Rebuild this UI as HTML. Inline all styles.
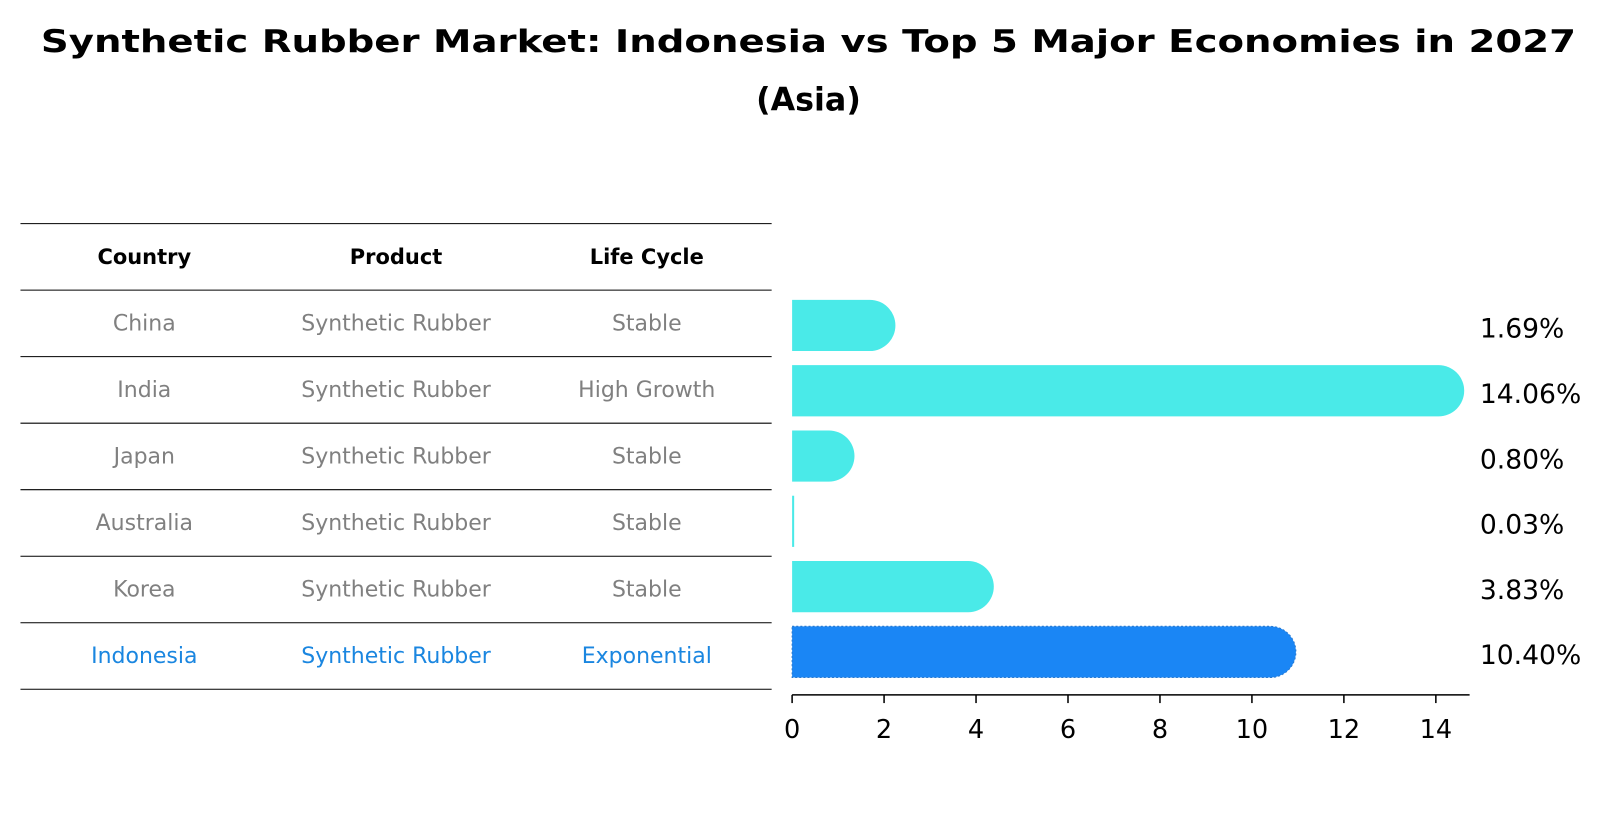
<!DOCTYPE html>
<html><head><meta charset="utf-8"><style>
body{margin:0;background:#fff;font-family:"DejaVu Sans","Liberation Sans",sans-serif;}
svg text{font-family:"DejaVu Sans","Liberation Sans",sans-serif;}
</style></head><body>
<svg id="c" width="1604" height="823" xmlns="http://www.w3.org/2000/svg">
<g transform="scale(1.0234)">
<text x="790" y="51" text-anchor="middle" font-size="30" font-weight="bold" textLength="1500" lengthAdjust="spacingAndGlyphs">Synthetic Rubber Market: Indonesia vs Top 5 Major Economies in 2027</text>
<text x="790" y="108" text-anchor="middle" font-size="31" font-weight="bold">(Asia)</text>
<g id="tbl"></g>
<g id="bars"></g>
</g>
</svg>
<script>
const countries=["China","India","Japan","Australia","Korea","Indonesia"];
const products=["Synthetic Rubber","Synthetic Rubber","Synthetic Rubber","Synthetic Rubber","Synthetic Rubber","Synthetic Rubber"];
const lifeCycles=["Stable","High Growth","Stable","Stable","Stable","Exponential"];
const values=[1.69,14.06,0.80,0.03,3.83,10.40];
const valueLabels=["1.69%","14.06%","0.80%","0.03%","3.83%","10.40%"];
const xTicks=[0,2,4,6,8,10,12,14];
const NS="http://www.w3.org/2000/svg";
function mk(t,a,p,txt){const e=document.createElementNS(NS,t);for(const k in a)e.setAttribute(k,a[k]);if(txt!=null)e.textContent=txt;p.appendChild(e);return e;}
const tbl=document.getElementById('tbl'),bars=document.getElementById('bars');
const rowY=i=>218+65*i;
const colX=[141,387,632];
for(let i=0;i<=7;i++){const l=mk('line',{x1:20,x2:754,y1:rowY(i)+0.5,y2:rowY(i)+0.5,stroke:'#000','stroke-width':1},tbl);

}
["Country","Product","Life Cycle"].forEach((h,j)=>{const t=mk('text',{x:colX[j],y:rowY(0)+40,'text-anchor':'middle','font-size':20.5,'font-weight':'bold',textLength:[94,96,118][j]*0+0},tbl,h);
t.removeAttribute('textLength');

});
const x=v=>774+v*44.93;
const yc=i=>318+63.8*i;
countries.forEach((c,i)=>{
 const hl=i===countries.length-1;const col=hl?'#1a86e0':'#808080';
 [c,products[i],lifeCycles[i]].forEach((s,j)=>{const t=mk('text',{x:colX[j],y:rowY(i+1)+40,'text-anchor':'middle','font-size':21.5,fill:col},tbl,s);
 
 });
 const w=x(values[i])-x(0),h=50,y0=yc(i)-25;
 const d=`M${x(0)},${y0} H${x(values[i])} A25,25 0 0 1 ${x(values[i])},${y0+h} H${x(0)} Z`;
 const fill=hl?'#1a86f5':'#4aeae8';
 const b=mk('path',{d:values[i]<0.1?`M${x(0)},${y0} h2 v${h} h-2 Z`:d,fill:fill},bars);
 if(hl){b.setAttribute('stroke','#2a7ad0');b.setAttribute('stroke-dasharray','2 2');}
 
 
 const t=mk('text',{x:1446,y:yc(i)+12,'font-size':26},bars,valueLabels[i]);
 
 
});
const ax=mk('line',{x1:774,x2:1436,y1:679,y2:679,stroke:'#000','stroke-width':1.5},bars);


xTicks.forEach(v=>{const l=mk('line',{x1:x(v),x2:x(v),y1:679,y2:687,stroke:'#000','stroke-width':1.5},bars);


const t=mk('text',{x:x(v),y:721,'text-anchor':'middle','font-size':25},bars,String(v));

});
</script>
</body></html>
